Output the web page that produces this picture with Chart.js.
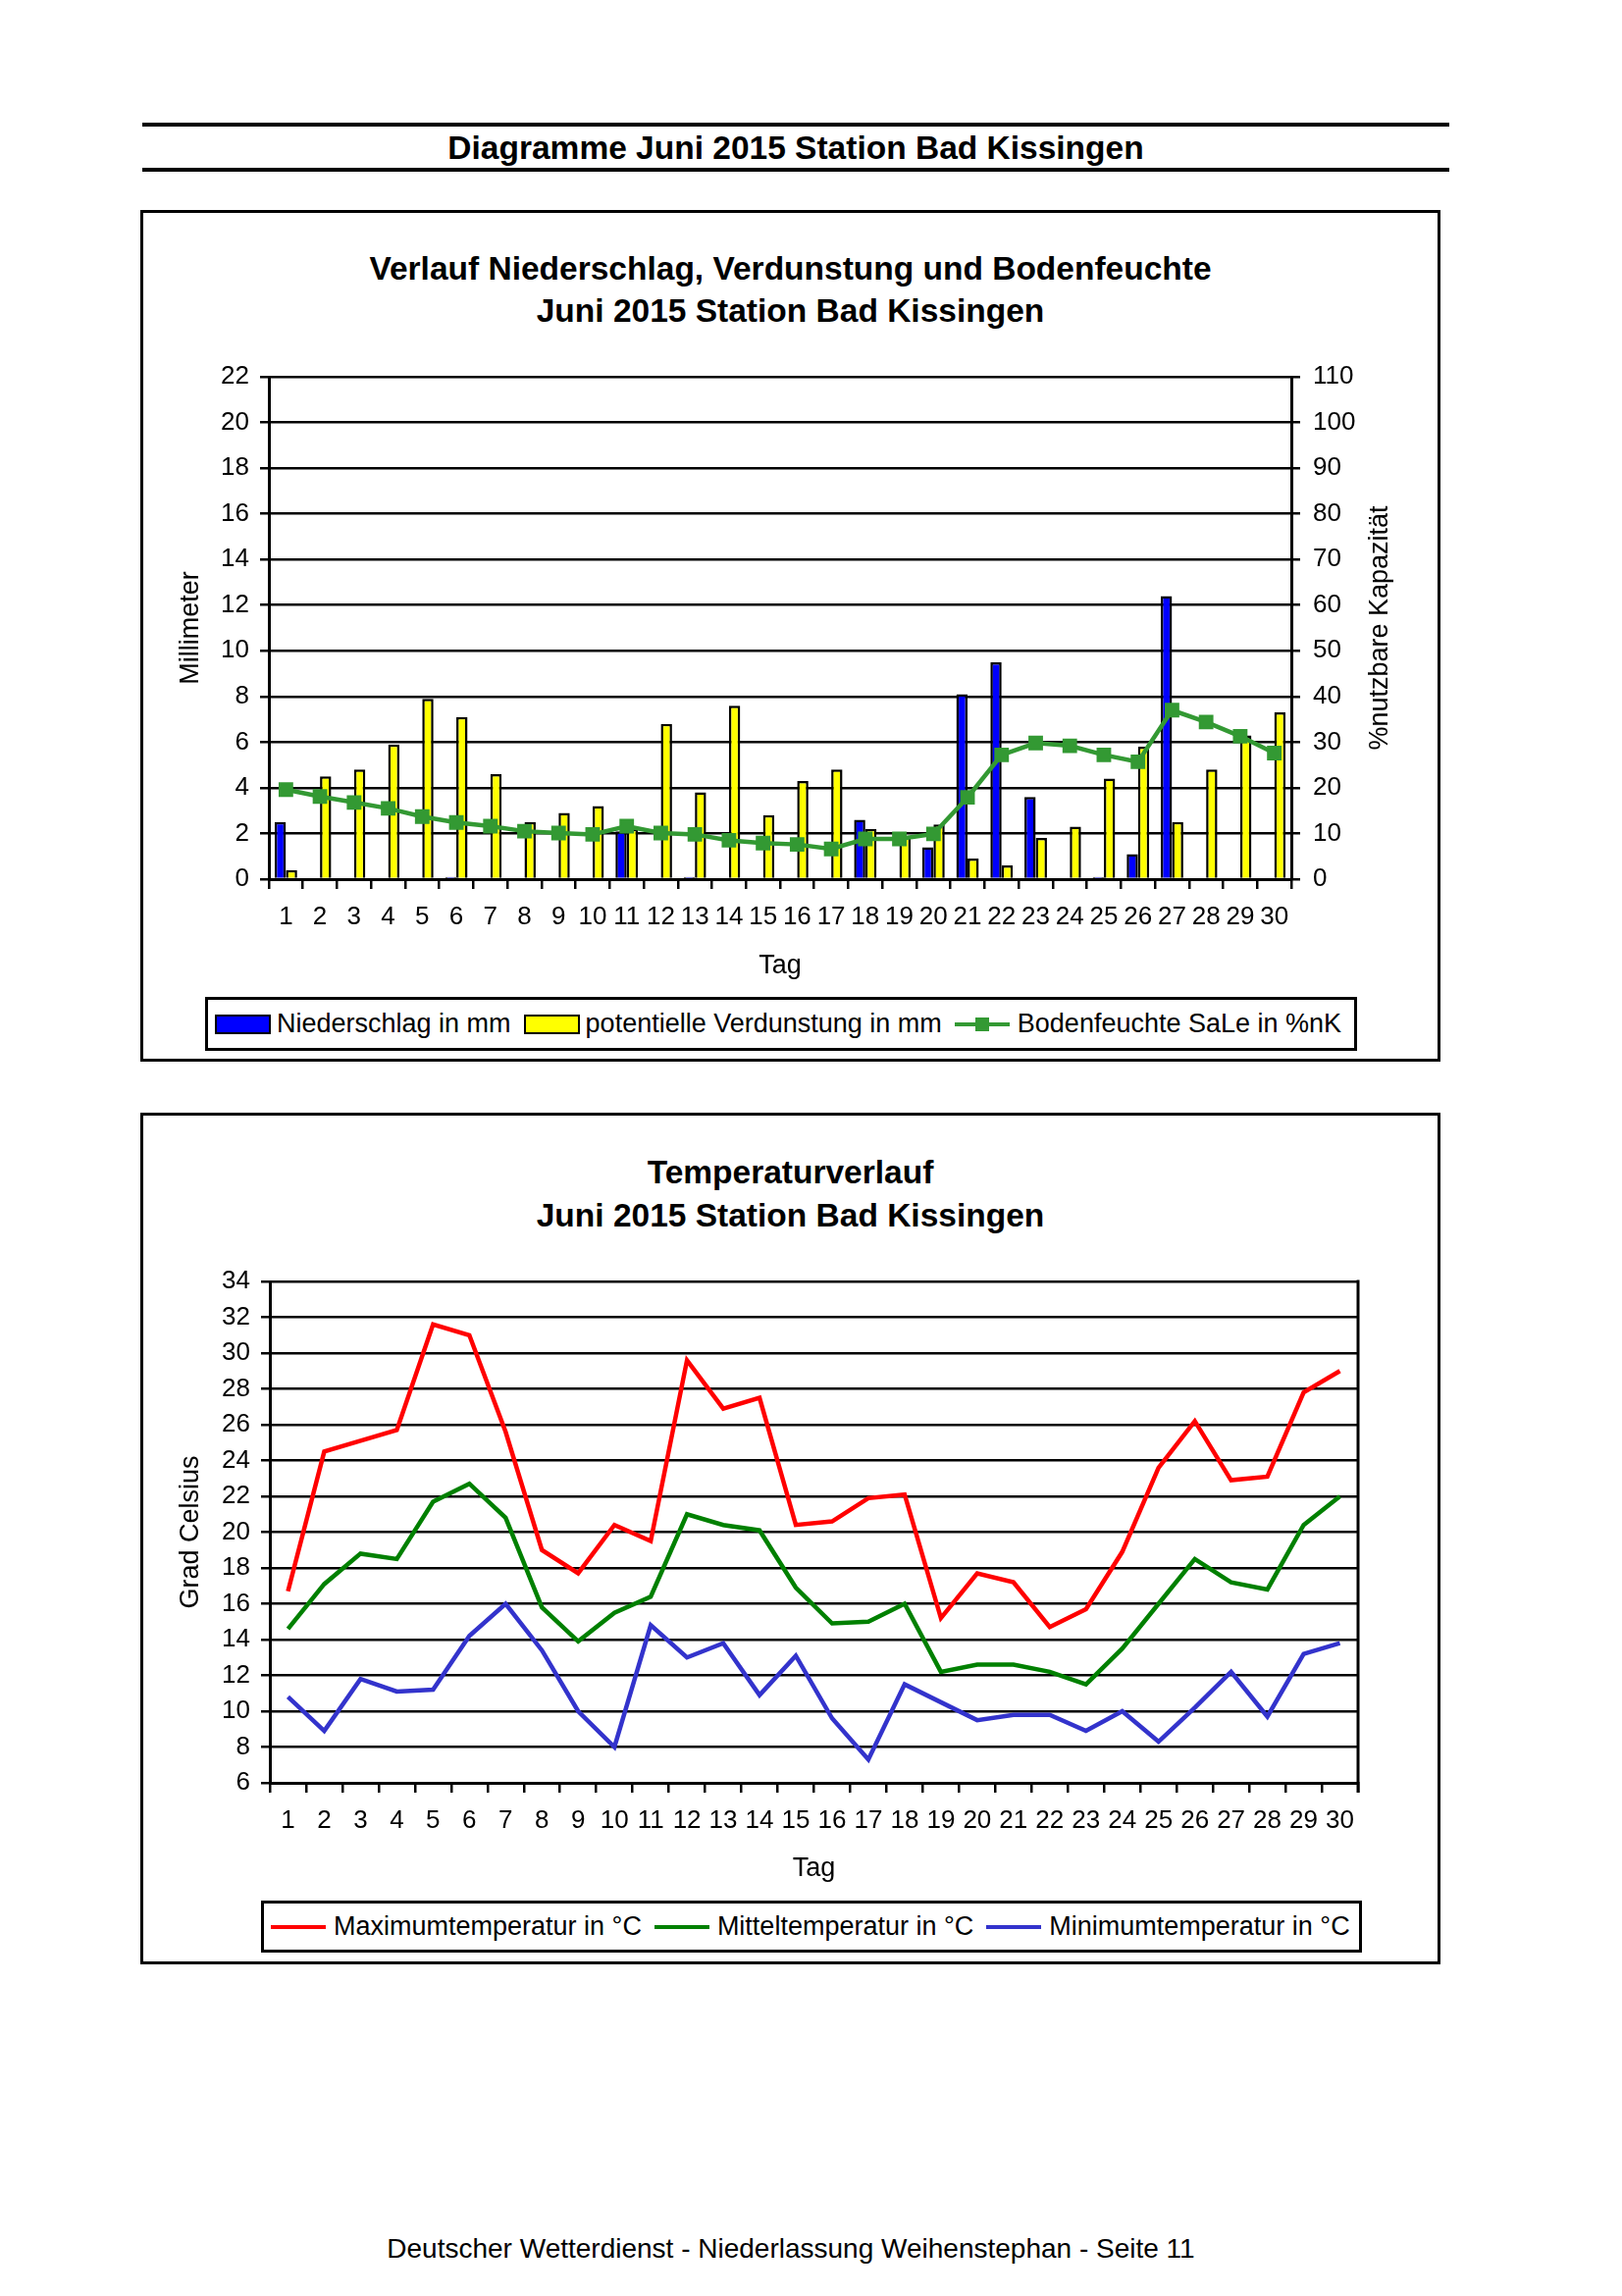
<!DOCTYPE html>
<html lang="de">
<head>
<meta charset="UTF-8">
<title>Diagramme Juni 2015 Station Bad Kissingen</title>
<script src="https://cdn.jsdelivr.net/npm/chart.js"></script>
<style>
    body {
        margin: 0;
        background: #fff;
        color: #000;
        font-family: Arial, 'Liberation Sans', sans-serif;
    }
    .page { position: relative; width: 1653px; height: 2340px; overflow: hidden; }
    .rule { position: absolute; left: 145px; width: 1332px; height: 4px; background: #000; }
    .page-title {
        position: absolute; left: 145px; width: 1332px; top: 131px;
        line-height: 40px; text-align: center; font-size: 33.5px; font-weight: bold;
    }
    .frame { position: absolute; left: 143px; width: 1325px; border: 3px solid #000; box-sizing: border-box; }
    .chart-title {
        position: absolute; left: 143px; width: 1325px;
        text-align: center; font-size: 33.5px; font-weight: bold; line-height: 43px;
    }
    .chart-wrap { position: absolute; left: 146px; width: 1319px; height: 862px; }
    .legend {
        position: absolute; border: 3px solid #000; box-sizing: border-box;
        display: flex; align-items: center; font-size: 27px; white-space: nowrap;
        padding-left: 7px; background: #fff;
    }
    .legend .item { display: flex; align-items: center; margin-right: 13px; }
    .legend .swatch { width: 57px; height: 20px; border: 2.5px solid #000; box-sizing: border-box; margin-right: 6px; }
    .legend .lineicon { position: relative; width: 56px; height: 20px; margin-right: 8px; }
    .legend .lineicon .bar { position: absolute; left: 0; right: 0; top: 8px; height: 4px; }
    .legend .lineicon .mark { position: absolute; left: 21px; top: 3px; width: 14px; height: 14px; }
    .footer {
        position: absolute; left: 145px; width: 1322px; top: 2276px;
        text-align: center; font-size: 28px; line-height: 32px;
    }
</style>
</head>
<body>
<div class="page">
    <div class="rule" style="top:125px"></div>
    <div class="page-title">Diagramme Juni 2015 Station Bad Kissingen</div>
    <div class="rule" style="top:171px"></div>

    <!-- Niederschlag / Verdunstung / Bodenfeuchte -->
    <div class="frame" style="top:214px; height:868px"></div>
    <div class="chart-title" style="top:252px">Verlauf Niederschlag, Verdunstung und Bodenfeuchte<br>Juni 2015 Station Bad Kissingen</div>
    <div class="chart-wrap" style="top:217px"><canvas id="chart-wasser" width="1319" height="862"></canvas></div>
    <div class="legend" id="legend-wasser" style="left:209px; top:1016px; width:1174px; height:55px"></div>

    <!-- Temperatur -->
    <div class="frame" style="top:1134px; height:868px"></div>
    <div class="chart-title" style="top:1173px; line-height:44px">Temperaturverlauf<br>Juni 2015 Station Bad Kissingen</div>
    <div class="chart-wrap" style="top:1137px"><canvas id="chart-temp" width="1319" height="862"></canvas></div>
    <div class="legend" id="legend-temp" style="left:266px; top:1937px; width:1122px; height:53px"></div>

    <div class="footer">Deutscher Wetterdienst - Niederlassung Weihenstephan - Seite 11</div>
</div>

<script>
    // Tage im Juni
    const tage = ['1','2','3','4','5','6','7','8','9','10','11','12','13','14','15',
                  '16','17','18','19','20','21','22','23','24','25','26','27','28','29','30'];

    // Niederschlag in mm (null = kein Niederschlag)
    const niederschlag = [2.5, null, null, null, null, 0.1, null, null, null, null,
                          2.1, null, 0.1, null, null, null, null, 2.6, null, 1.4,
                          8.1, 9.5, 3.6, null, 0.1, 1.1, 12.4, null, null, null];

    // potentielle Verdunstung in mm
    const verdunstung = [0.4, 4.5, 4.8, 5.9, 7.9, 7.1, 4.6, 2.5, 2.9, 3.2,
                         2.2, 6.8, 3.8, 7.6, 2.8, 4.3, 4.8, 2.2, 1.9, 2.4,
                         0.9, 0.6, 1.8, 2.3, 4.4, 5.8, 2.5, 4.8, 6.3, 7.3];

    // Bodenfeuchte SaLe in %nK
    const bodenfeuchte = [19.6, 18.1, 16.8, 15.5, 13.7, 12.4, 11.6, 10.5, 10.1, 9.8,
                          11.6, 10.1, 9.8, 8.5, 7.9, 7.6, 6.6, 8.8, 8.8, 9.9,
                          17.9, 27.2, 29.8, 29.2, 27.2, 25.7, 37.0, 34.4, 31.3, 27.6];

    // Temperaturen in °C
    const maxTemp = [16.7, 24.5, 25.1, 25.7, 31.6, 31.0, 25.6, 19.0, 17.7, 20.4,
                     19.5, 29.6, 26.9, 27.5, 20.4, 20.6, 21.9, 22.1, 15.2, 17.7,
                     17.2, 14.7, 15.7, 18.9, 23.6, 26.2, 22.9, 23.1, 27.8, 29.0];
    const mittelTemp = [14.6, 17.1, 18.8, 18.5, 21.7, 22.7, 20.8, 15.8, 13.9, 15.5,
                        16.4, 21.0, 20.4, 20.1, 16.9, 14.9, 15.0, 16.0, 12.2, 12.6,
                        12.6, 12.2, 11.5, 13.5, 16.0, 18.5, 17.2, 16.8, 20.4, 22.0];
    const minTemp = [10.8, 8.9, 11.8, 11.1, 11.2, 14.2, 16.0, 13.4, 10.0, 8.0,
                     14.8, 13.0, 13.8, 10.9, 13.1, 9.6, 7.3, 11.5, 10.5, 9.5,
                     9.8, 9.8, 8.9, 10.0, 8.3, 10.2, 12.2, 9.7, 13.2, 13.8];

    Chart.defaults.font.family = "Arial, 'Liberation Sans', sans-serif";
    Chart.defaults.color = '#000';

    const tickFont = { size: 26 };
    const titleFont = { size: 27 };

    // Achsentitel rechts (von unten nach oben gelesen)
    const rightTitle = {
        id: 'rightTitle',
        afterDraw(chart, args, opts) {
            if (!opts.text) return;
            const { ctx, chartArea } = chart;
            ctx.save();
            ctx.translate(opts.x, (chartArea.top + chartArea.bottom) / 2);
            ctx.rotate(-Math.PI / 2);
            ctx.font = opts.font;
            ctx.fillStyle = '#000';
            ctx.textAlign = 'center';
            ctx.textBaseline = 'middle';
            ctx.fillText(opts.text, 0, 0);
            ctx.restore();
        }
    };

    // rechter Rand der Zeichenfläche
    const plotFrame = {
        id: 'plotFrame',
        afterDraw(chart, args, opts) {
            if (!opts.right) return;
            const { ctx, chartArea } = chart;
            ctx.save();
            ctx.strokeStyle = '#000';
            ctx.lineWidth = 3;
            ctx.beginPath();
            ctx.moveTo(chartArea.right, chartArea.top - 1.5);
            ctx.lineTo(chartArea.right, chartArea.bottom + 10);
            ctx.stroke();
            ctx.restore();
        }
    };

    function fixWidth(w) { return scale => { scale.width = w; }; }
    function fixHeight(h) { return scale => { scale.height = h; }; }

    function xAxis(height) {
        return {
            offset: true,
            grid: { offset: true, drawOnChartArea: false, color: '#000', lineWidth: 2.5, tickLength: 10 },
            border: { color: '#000', width: 3 },
            ticks: { font: tickFont, padding: 13, maxRotation: 0, autoSkip: false },
            title: { display: true, text: 'Tag', font: titleFont, padding: { top: 0, bottom: 4 } },
            afterFit: fixHeight(height)
        };
    }

    // Diagramm 1: Niederschlag, Verdunstung, Bodenfeuchte
    const wasserChart = new Chart(document.getElementById('chart-wasser'), {
        type: 'bar',
        data: {
            labels: tage,
            datasets: [
                {
                    type: 'line',
                    label: 'Bodenfeuchte SaLe in %nK',
                    data: bodenfeuchte,
                    yAxisID: 'y2',
                    borderColor: '#339933',
                    backgroundColor: '#339933',
                    borderWidth: 4.5,
                    pointStyle: 'rect',
                    pointRadius: 10.5,
                    pointBorderWidth: 0,
                    tension: 0,
                    order: 0
                },
                {
                    label: 'Niederschlag in mm',
                    data: niederschlag,
                    backgroundColor: '#0000ff',
                    borderColor: '#000',
                    borderWidth: 2.5,
                    categoryPercentage: 0.66,
                    barPercentage: 1,
                    order: 1
                },
                {
                    label: 'potentielle Verdunstung in mm',
                    data: verdunstung,
                    backgroundColor: '#ffff00',
                    borderColor: '#000',
                    borderWidth: 2.5,
                    categoryPercentage: 0.66,
                    barPercentage: 1,
                    order: 2
                }
            ]
        },
        options: {
            responsive: false,
            animation: false,
            devicePixelRatio: 1,
            layout: { padding: { top: 167, bottom: 74, left: 0, right: 0 } },
            plugins: {
                legend: { display: false },
                tooltip: { enabled: false },
                rightTitle: { text: '%nutzbare Kapazität', x: 1261, font: "27px Arial, 'Liberation Sans', sans-serif" },
                plotFrame: { right: false }
            },
            scales: {
                x: xAxis(109),
                y: {
                    position: 'left',
                    min: 0, max: 22,
                    ticks: { stepSize: 2, font: tickFont, padding: 11 },
                    grid: { color: '#000', lineWidth: 2.5, tickLength: 9 },
                    border: { color: '#000', width: 3 },
                    title: { display: true, text: 'Millimeter', font: titleFont, padding: { top: 32, bottom: 0 } },
                    afterFit: fixWidth(128)
                },
                y2: {
                    position: 'right',
                    min: 0, max: 110,
                    ticks: { stepSize: 10, font: tickFont, padding: 13 },
                    grid: { drawOnChartArea: false, color: '#000', lineWidth: 2.5, tickLength: 9 },
                    border: { color: '#000', width: 3 },
                    afterFit: fixWidth(149)
                }
            }
        },
        plugins: [rightTitle, plotFrame]
    });

    // Diagramm 2: Temperaturverlauf
    const tempChart = new Chart(document.getElementById('chart-temp'), {
        type: 'line',
        data: {
            labels: tage,
            datasets: [
                { label: 'Maximumtemperatur in °C', data: maxTemp, borderColor: '#ff0000', backgroundColor: '#ff0000' },
                { label: 'Mitteltemperatur in °C', data: mittelTemp, borderColor: '#008000', backgroundColor: '#008000' },
                { label: 'Minimumtemperatur in °C', data: minTemp, borderColor: '#3333cc', backgroundColor: '#3333cc' }
            ]
        },
        options: {
            responsive: false,
            animation: false,
            devicePixelRatio: 1,
            elements: {
                line: { borderWidth: 4.5, tension: 0 },
                point: { radius: 0 }
            },
            layout: { padding: { top: 169, bottom: 74, left: 0, right: 81 } },
            plugins: {
                legend: { display: false },
                tooltip: { enabled: false },
                plotFrame: { right: true }
            },
            scales: {
                x: xAxis(108),
                y: {
                    min: 6, max: 34,
                    ticks: { stepSize: 2, font: tickFont, padding: 11 },
                    grid: { color: '#000', lineWidth: 2.5, tickLength: 9 },
                    border: { color: '#000', width: 3 },
                    title: { display: true, text: 'Grad Celsius', font: titleFont, padding: { top: 32, bottom: 0 } },
                    afterFit: fixWidth(129)
                }
            }
        },
        plugins: [plotFrame]
    });

    // Legenden aus den Datensätzen aufbauen
    function buildLegend(chart, elId, order) {
        const box = document.getElementById(elId);
        order.forEach(i => {
            const ds = chart.data.datasets[i];
            const item = document.createElement('div');
            item.className = 'item';
            let icon;
            if ((ds.type || chart.config.type) === 'bar') {
                icon = document.createElement('div');
                icon.className = 'swatch';
                icon.style.background = ds.backgroundColor;
            } else {
                icon = document.createElement('div');
                icon.className = 'lineicon';
                const bar = document.createElement('div');
                bar.className = 'bar';
                bar.style.background = ds.borderColor;
                icon.appendChild(bar);
                if (ds.pointRadius) {
                    const mark = document.createElement('div');
                    mark.className = 'mark';
                    mark.style.background = ds.borderColor;
                    icon.appendChild(mark);
                }
            }
            const text = document.createElement('span');
            text.textContent = ds.label;
            item.appendChild(icon);
            item.appendChild(text);
            box.appendChild(item);
        });
    }

    buildLegend(wasserChart, 'legend-wasser', [1, 2, 0]);
    buildLegend(tempChart, 'legend-temp', [0, 1, 2]);
</script>
</body>
</html>
